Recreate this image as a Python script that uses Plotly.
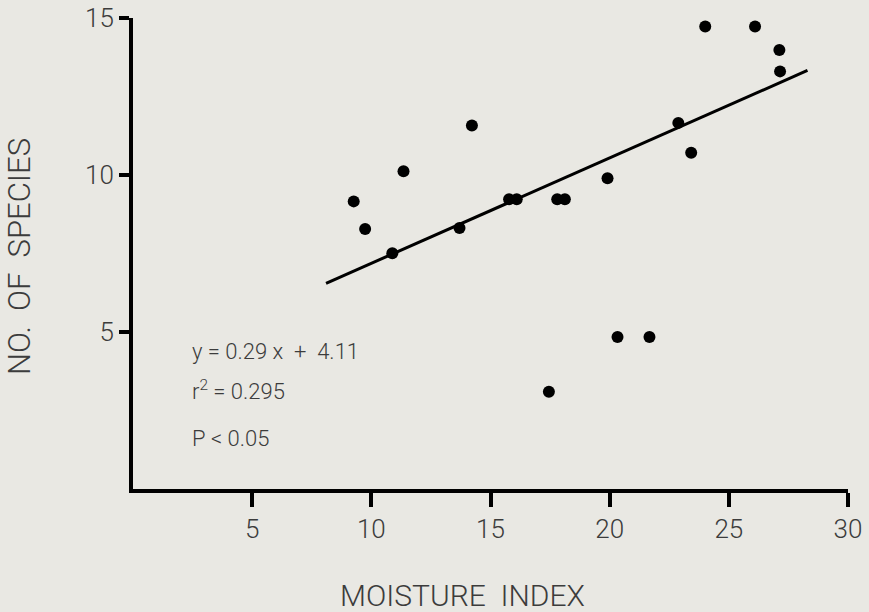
import plotly.graph_objects as go

# Data
moisture = [9.26, 9.74, 10.88, 11.35, 13.70, 14.22, 15.78, 16.10, 17.80, 18.12,
            19.91, 22.88, 23.42, 24.01, 26.10, 27.12, 27.15, 17.45, 20.33, 21.67]
species = [9.16, 8.28, 7.51, 10.12, 8.31, 11.58, 9.23, 9.23, 9.23, 9.23,
           9.90, 11.66, 10.71, 14.73, 14.73, 13.98, 13.30, 3.10, 4.84, 4.84]
line_x = [8.1, 28.3]
line_y = [6.55, 13.33]
x_ticks = [5, 10, 15, 20, 25, 30]
y_ticks = [5, 10, 15]

BG = "#e9e8e3"
FONT = "Roboto"
TXT = "#3c3c3c"

L, R, T, B = 133, 21, 18, 123
W, H = 869, 612

fig = go.Figure()
fig.add_trace(go.Scatter(x=line_x, y=line_y, mode="lines",
                         line=dict(color="black", width=3), showlegend=False,
                         hoverinfo="skip"))
fig.add_trace(go.Scatter(x=moisture, y=species, mode="markers",
                         marker=dict(color="black", size=12), showlegend=False))

fig.update_layout(
    width=W, height=H,
    margin=dict(l=L, r=R, t=T, b=B, autoexpand=False),
    paper_bgcolor=BG, plot_bgcolor=BG,
    font=dict(family=FONT, color=TXT, weight=300),
)
fig.update_xaxes(range=[0, 30], showgrid=False, zeroline=False, automargin=False,
                 showline=True, linecolor="black", linewidth=4,
                 ticks="outside", ticklen=14, tickwidth=4, tickcolor="black",
                 tickvals=x_ticks, ticktext=[str(v) for v in x_ticks],
                 tickfont=dict(size=26, family=FONT, color=TXT, weight=300))
fig.update_yaxes(range=[0, 15], showgrid=False, zeroline=False, automargin=False,
                 showline=True, linecolor="black", linewidth=4,
                 ticks="outside", ticklen=10, tickwidth=4, tickcolor="black",
                 tickvals=y_ticks, ticktext=[str(v) for v in y_ticks],
                 tickfont=dict(size=26, family=FONT, color=TXT, weight=300))

ann_font = dict(size=22, family=FONT, color=TXT, weight=300)
fig.add_annotation(x=2.4, y=4.38, xref="x", yref="y", xanchor="left", yanchor="middle",
                   text="y = 0.29 x  +  4.11", showarrow=False, font=ann_font)
fig.add_annotation(x=2.4, y=3.14, xref="x", yref="y", xanchor="left", yanchor="middle",
                   text="r<sup>2</sup> = 0.295", showarrow=False, font=ann_font)
fig.add_annotation(x=2.4, y=1.62, xref="x", yref="y", xanchor="left", yanchor="middle",
                   text="P < 0.05", showarrow=False, font=ann_font)

pw = W - L - R
ph = H - T - B
fig.add_annotation(x=(462 - L) / pw, y=((H - 595) - B) / ph, xref="paper", yref="paper",
                   text="MOISTURE  INDEX", showarrow=False,
                   font=dict(size=30, family=FONT, color=TXT, weight=300),
                   xanchor="center", yanchor="middle", borderpad=0)
fig.add_annotation(x=(19 - L) / pw, y=((H - 257) - B) / ph, xref="paper", yref="paper",
                   text="NO.  OF  SPECIES", showarrow=False,
                   font=dict(size=31, family=FONT, color=TXT, weight=300),
                   textangle=-90, xanchor="center", yanchor="middle")

fig.write_html("out.html", config={"displayModeBar": False},
               post_script="document.body.style.margin='0';document.body.style.overflow='hidden';")
